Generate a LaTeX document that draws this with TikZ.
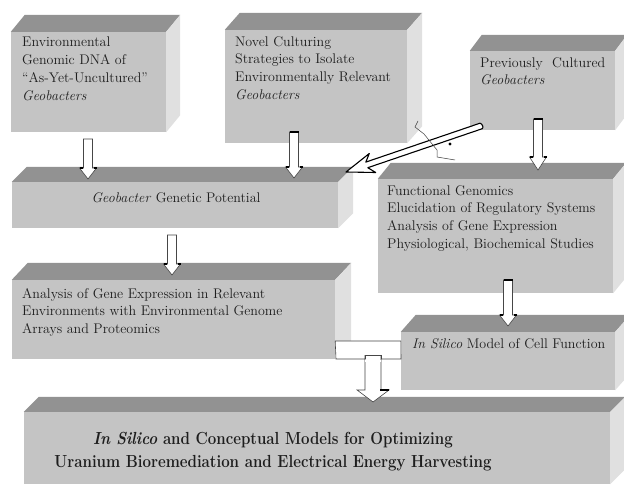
\documentclass[tikz,border=0pt]{standalone}
\usetikzlibrary{calc,fit}
\definecolor{frontc}{RGB}{196,196,196}
\definecolor{topc}{RGB}{146,146,146}
\definecolor{sidec}{RGB}{224,224,224}
\definecolor{txtc}{RGB}{30,30,30}
\definecolor{arrc}{RGB}{70,70,70}
\tikzset{
  frontbox/.style={fill=frontc, inner sep=0pt, draw=none},
  boxtext/.style={text=txtc, inner sep=0pt, align=left, font=\fontsize{14}{17.7}\selectfont},
  titletext/.style={text=txtc, inner sep=0pt, align=center, font=\bfseries\fontsize{17.5}{23}\selectfont, xscale=0.86, transform shape},
  blockarrow/.style={fill=white, draw=arrc, line width=0.6pt, line join=miter},
  headtick/.style={draw=black, line width=1.2pt},
}
\newcommand\cubebox[7]{%
  \coordinate (#1-a) at (#2,#3);
  \coordinate (#1-b) at (#4,#5);
  \node[frontbox, fit=(#1-a)(#1-b)] (#1) {};
  \fill[topc] (#1.north west) -- ++(#6,-#7) -- ($(#1.north east)+(#6,-#7)$) -- (#1.north east) -- cycle;
  \fill[sidec] (#1.north east) -- ++(#6,-#7) -- ($(#1.south east)+(#6,-#7)$) -- (#1.south east) -- cycle;
}
\newcommand\blockdown[5]{%
  \coordinate (#1-s) at (#2,#3);
  \coordinate (#1-e) at (#2,#5);
  \filldraw[blockarrow] ($(#1-s)+(-4.5,0)$) -- ($(#1-s)+(4.5,0)$) -- (#2+4.5,#4) -- (#2+8.5,#4) -- (#1-e) -- (#2-8.5,#4) -- (#2-4.5,#4) -- cycle;
  \draw[headtick] (#2-8.5,#4) -- (#2-5.5,#4) (#2+5.5,#4) -- (#2+8.5,#4);
}
\begin{document}
\begin{tikzpicture}[x=1pt,y=-1pt]
\useasboundingbox (0,0) rectangle (624,492);
\clip (0,0) rectangle (624,492);
\fill[white] (0,0) rectangle (624,492);

% boxes
\cubebox{b1}{11}{32}{166}{132}{14}{17}
\cubebox{b2}{225}{30}{407}{143}{15}{17}
\cubebox{b3}{470}{51}{615}{130}{12}{16}
\cubebox{b4}{12}{182}{338}{228}{15}{15}
\cubebox{b5}{12}{280}{335}{359}{16}{17}
\cubebox{b6}{378}{179}{613}{293}{13}{16}
\cubebox{b7}{401}{332}{615}{390}{15}{17}
\cubebox{b8}{24}{412}{610}{484}{15}{15}

% texts
\node[boxtext, anchor=north west] (t1) at (22,37) {Environmental\\Genomic DNA of\\``As-Yet-Uncultured''\\\textit{Geobacters}};
\node[boxtext, anchor=north west] (t2) at (235,36) {Novel Culturing\\Strategies to Isolate\\Environmentally Relevant\\\textit{Geobacters}};
\node[boxtext, anchor=north west] (t3) at (480,57) {Previously\ \ Cultured\\\textit{Geobacters}};
\node[boxtext, anchor=base] (t4) at (176,202) {\textit{Geobacter} Genetic Potential};
\node[boxtext, anchor=north west] (t5) at (22,288) {Analysis of Gene Expression in Relevant\\Environments with Environmental Genome\\Arrays and Proteomics};
\node[boxtext, anchor=north west] (t6) at (387,185) {Functional Genomics\\Elucidation of Regulatory Systems\\Analysis of Gene Expression\\Physiological, Biochemical Studies};
\node[boxtext, anchor=base west] (t7) at (412,348) {\textit{In Silico} Model of Cell Function};
\node[titletext, anchor=north] (t8) at (273,432) {\textit{In Silico} and Conceptual Models for Optimizing\\Uranium Bioremediation and Electrical Energy Harvesting};

% vertical block arrows
\blockdown{a1}{88}{139}{168}{179}
\blockdown{a2}{294}{132}{167}{178}
\blockdown{a3}{538}{119}{157}{170}
\blockdown{a4}{172}{235}{264}{275}
\blockdown{a5}{508}{280}{315}{326}
\draw[headtick] (289.5,132) -- (298.5,132);
\draw[headtick] (533.5,119) -- (542.5,119);
\draw[headtick] (503.5,280) -- (512.5,280);

% merging T arrow into the bottom box
\coordinate (m1) at (b5.east |- 0,341);
\coordinate (m2) at (b7.west |- 0,341);
\coordinate (mtip) at (373,402);
\filldraw[blockarrow] (m1) -- (m2) -- (401,359) -- (381,359) -- (381,355) -- (381,390) -- (389,390) -- (mtip) -- (357,390) -- (365,390) -- (365,355) -- (365,359) -- (336,359) -- cycle;
\draw[arrc, line width=0.6pt] (365,359) -- (365,355) -- (381,355) -- (381,359);
\fill[white] (365.4,359.5) rectangle (380.6,362);
\draw[headtick] (380,390) -- (389,390);

% diagonal arrow from previously cultured to genetic potential
\coordinate (dtail) at (481,126);
\coordinate (dtip) at (346,172);
\filldraw[fill=white, draw=black, line width=1.1pt, line join=round]
  (482,128.8) -- (367.8,167.7) -- (375.7,172.5) -- (dtip) -- (369.3,153.5) -- (365.8,162.1) -- (480,123.2) to[out=-10,in=20] cycle;
% crossing stray outline
\draw[gray!50!black, line width=0.5pt] (418,121) -- (415,127) -- (424,134) -- (437,150) -- (437,157) -- (455,160);
\fill[black] (450,144) circle (1.6);
\end{tikzpicture}
\end{document}
